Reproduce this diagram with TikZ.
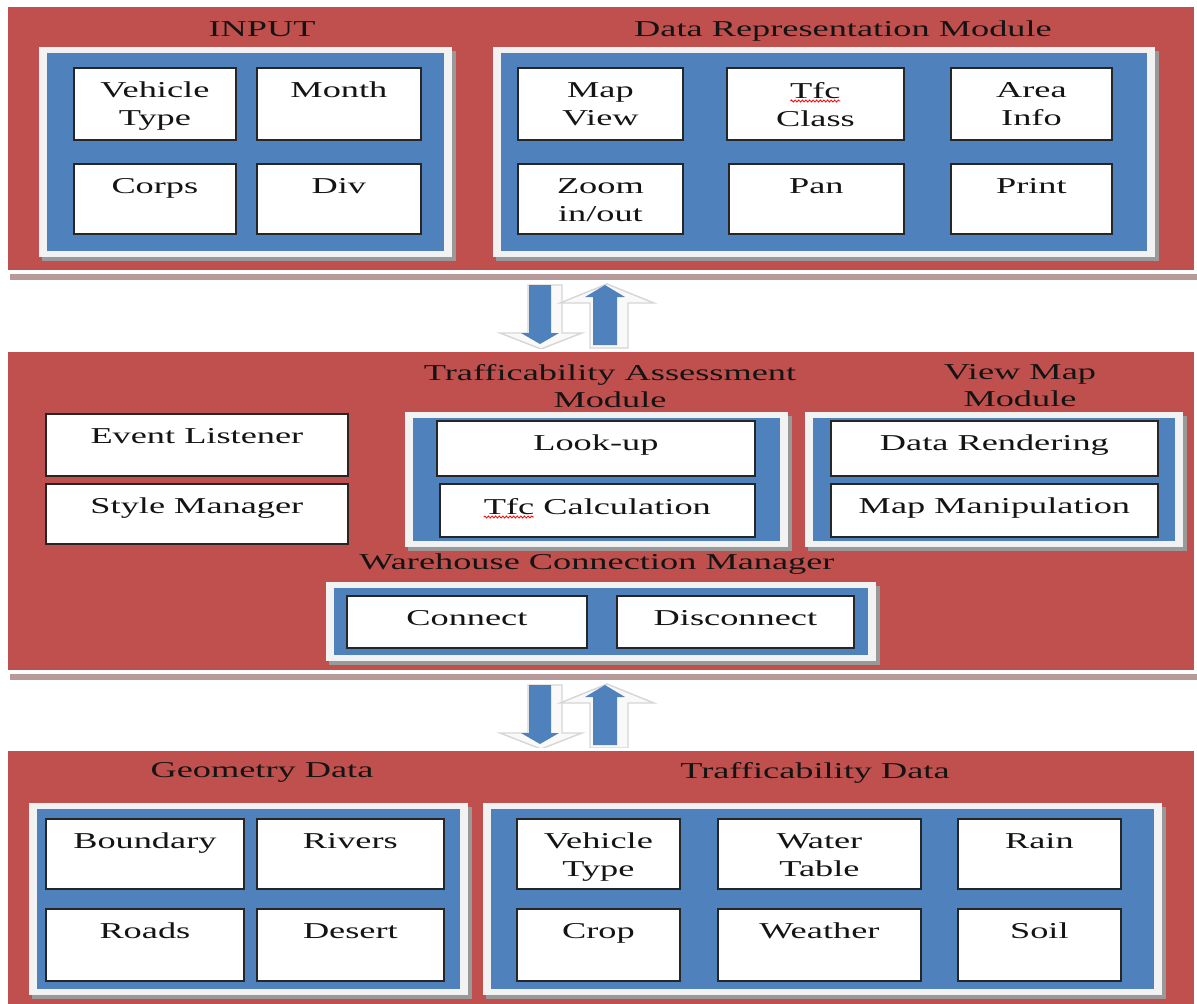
\documentclass[tikz,border=0pt]{standalone}
\usepackage{fontspec}
\setmainfont{Liberation Serif}[FakeStretch=1.6]
\usetikzlibrary{decorations.pathmorphing}

\definecolor{bandred}{HTML}{C0504D}
\definecolor{panelblue}{HTML}{4F81BD}
\definecolor{bandshade}{HTML}{B89A9A}
\definecolor{framewhite}{HTML}{F2F2F2}
\definecolor{inktext}{HTML}{141414}

\tikzset{
  cell/.style={draw=black!85, line width=1.8pt, fill=white, inner sep=0pt},
  celltext/.style={inner sep=0pt, align=center, text=inktext,
    font=\fontsize{22.7}{28}\selectfont},
  title/.style={inner sep=0pt, align=center, text=inktext,
    font=\fontsize{22.7}{27}\selectfont},
  flowarrow/.style={fill=panelblue, draw=none},
  arrowshade/.style={fill=gray!5, draw=gray!32, line width=1.4pt, line join=miter},
  spellmark/.style={draw=red, line width=0.8pt, decorate,
    decoration={snake, amplitude=1pt, segment length=3.6pt}},
}

% red layer band with white rim and soft shadow below
\newcommand\layerband[2]{%
  \fill[bandshade] (10,{#2-2}) rectangle (1197,{#2+10});
  \fill[white] (5,{#1-3}) rectangle (1197,{#2+4});
  \fill[bandred] (8,#1) rectangle (1194,#2);
}
% white-framed blue panel with drop shadow
\newcommand\bluepanel[4]{%
  \fill[black!40] ({#1+3},{#2+4}) rectangle ({#3+4},{#4+4});
  \fill[framewhite] (#1,#2) rectangle (#3,#4);
  \fill[panelblue] ({#1+8},{#2+6}) rectangle ({#3-8},{#4-6});
}
% white box with its text set near the top
\newcommand\cellnode[6]{%
  \node[cell, anchor=north west, minimum width={(#4)-(#2)},
        minimum height={(#5)-(#3)}] (#1) at (#2,#3) {};
  \node[celltext, anchor=north] (#1-txt) at ([yshift=-15pt]#1.north) {#6};
}
% pair of block arrows (down and up) with their light shadows
\newcommand\arrowpair[1]{%
  \fill[arrowshade] (528,#1) -- (562,#1) -- (562,{#1+48}) -- (582,{#1+48})
     -- (541,{#1+64}) -- (500,{#1+48}) -- (528,{#1+48}) -- cycle;
  \fill[arrowshade] (607,{#1-1}) -- (654,{#1+18}) -- (628,{#1+18})
     -- (628,{#1+63}) -- (590,{#1+63}) -- (590,{#1+18}) -- (560,{#1+18}) -- cycle;
  \fill[flowarrow] (529,#1) -- (551,#1) -- (551,{#1+48}) -- (559,{#1+48})
     -- (540,{#1+59}) -- (521,{#1+48}) -- (529,{#1+48}) -- cycle;
  \fill[flowarrow] (605,#1) -- (625,{#1+12}) -- (617,{#1+12})
     -- (617,{#1+60}) -- (593,{#1+60}) -- (593,{#1+12}) -- (585,{#1+12}) -- cycle;
}

\begin{document}
\begin{tikzpicture}[x=1pt,y=-1pt]
\useasboundingbox (0,0) rectangle (1197,1004);
\fill[white] (0,0) rectangle (1197,1004);

% ---------------- top layer: input and data representation
\layerband{7}{270}
\node[title, anchor=north] (t-input) at (262,21) {INPUT};
\node[title, anchor=north] (t-datarep) at (843,21) {Data Representation Module};
\bluepanel{39}{47}{452}{257}
\bluepanel{493}{47}{1155}{257}
\cellnode{in-vt}{73}{67}{235}{139}{Vehicle\\Type}
\cellnode{in-month}{256}{67}{420}{139}{Month}
\cellnode{in-corps}{73}{163}{235}{233}{Corps}
\cellnode{in-div}{256}{163}{420}{233}{Div}
\cellnode{dr-map}{517}{67}{682}{139}{Map\\View}
\cellnode{dr-tfc}{726}{67}{903}{139}{Tfc\\Class}
\cellnode{dr-area}{950}{67}{1111}{139}{Area\\Info}
\cellnode{dr-zoom}{517}{163}{682}{233}{Zoom\\in/out}
\cellnode{dr-pan}{728}{163}{903}{233}{Pan}
\cellnode{dr-print}{950}{163}{1111}{233}{Print}
\draw[spellmark] ([xshift=-25pt,yshift=-19pt]dr-tfc-txt.north) -- ([xshift=25pt,yshift=-19pt]dr-tfc-txt.north);

\arrowpair{285}

% ---------------- middle layer: processing modules
\layerband{352}{670}
\cellnode{ev}{45}{413}{347}{475}{Event Listener}
\cellnode{sm}{45}{483}{347}{543}{Style Manager}

\node[title, anchor=north] (t-tam) at (610,364) {Trafficability Assessment\\Module};
\bluepanel{405}{412}{788}{547}
\cellnode{lookup}{436}{420}{754}{475}{Look-up}
\cellnode{tcalc}{439}{483}{754}{536}{Tfc Calculation}
\draw[spellmark] ([yshift=-19pt]tcalc-txt.north west) -- ([xshift=50pt,yshift=-19pt]tcalc-txt.north west);

\node[title, anchor=north] (t-vmm) at (1020,364) {View Map\\Module};
\bluepanel{805}{412}{1183}{547}
\cellnode{render}{830}{420}{1157}{475}{Data Rendering}
\cellnode{manip}{830}{483}{1157}{536}{Map Manipulation}

\node[title, anchor=north] (t-wcm) at (597,554) {Warehouse Connection Manager};
\bluepanel{326}{582}{876}{661}
\cellnode{conn}{346}{595}{586}{647}{Connect}
\cellnode{disc}{616}{595}{853}{647}{Disconnect}

\arrowpair{685}

% ---------------- bottom layer: stored data
\layerband{751}{1010}
\node[title, anchor=north] (t-geo) at (262,762) {Geometry Data};
\node[title, anchor=north] (t-tdata) at (815,762) {Trafficability Data};
\bluepanel{29}{803}{468}{995}
\bluepanel{483}{803}{1162}{995}
\cellnode{g-bound}{45}{818}{243}{888}{Boundary}
\cellnode{g-rivers}{256}{818}{443}{888}{Rivers}
\cellnode{g-roads}{45}{908}{243}{980}{Roads}
\cellnode{g-desert}{256}{908}{443}{980}{Desert}
\cellnode{t-vt}{516}{818}{679}{888}{Vehicle\\Type}
\cellnode{t-water}{717}{818}{920}{888}{Water\\Table}
\cellnode{t-rain}{957}{818}{1120}{888}{Rain}
\cellnode{t-crop}{516}{908}{679}{980}{Crop}
\cellnode{t-weather}{717}{908}{920}{980}{Weather}
\cellnode{t-soil}{957}{908}{1120}{980}{Soil}
\end{tikzpicture}
\end{document}
